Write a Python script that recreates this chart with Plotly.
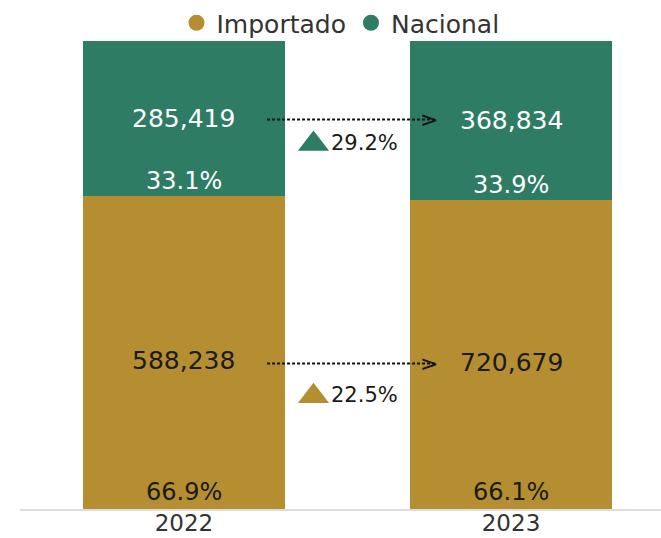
import plotly.graph_objects as go

years = ["2022", "2023"]
series = ["Importado", "Nacional"]
importado_vals = [588238, 720679]
nacional_vals = [285419, 368834]
importado_pct = [66.9, 66.1]
nacional_pct = [33.1, 33.9]
growth_labels = ["22.5%", "29.2%"]  # Importado, Nacional

GOLD = "#B48E30"
GREEN = "#2F7C65"
FONT = "DejaVu Sans"

fig = go.Figure()
fig.add_trace(go.Bar(x=[0, 1], y=importado_pct, marker=dict(color=GOLD, line=dict(width=0)),
                     width=0.618, showlegend=False, hoverinfo="skip"))
fig.add_trace(go.Bar(x=[0, 1], y=nacional_pct, marker=dict(color=GREEN, line=dict(width=0)),
                     width=0.618, showlegend=False, hoverinfo="skip"))

# legend entries
for name, col in zip(series, [GOLD, GREEN]):
    fig.add_trace(go.Scatter(x=[None], y=[None], mode="markers", name=name,
                             marker=dict(color=col, size=20, symbol="circle")))

ann = []
for i in range(2):
    imp, nac = importado_pct[i], nacional_pct[i]
    ann.append(dict(x=i, y=imp + nac / 2, text=f"{nacional_vals[i]:,}", showarrow=False,
                    font=dict(family=FONT, size=25, color="white")))
    ann.append(dict(x=i, y=imp + 3.1, text=f"{nac:.1f}%", showarrow=False,
                    font=dict(family=FONT, size=24, color="white")))
    ann.append(dict(x=i, y=imp * 0.475, text=f"{importado_vals[i]:,}", showarrow=False,
                    font=dict(family=FONT, size=25, color="#1a1a1a")))
    ann.append(dict(x=i, y=3.6, text=f"{imp:.1f}%", showarrow=False,
                    font=dict(family=FONT, size=24, color="#1a1a1a")))

# growth arrows and triangles
arrow_y = [importado_pct[0] * 0.465, importado_pct[0] + nacional_pct[0] / 2 - 0.2]
tri_y = [importado_pct[0] * 0.36, importado_pct[0] + nacional_pct[0] * 0.335]
tri_col = [GOLD, GREEN]
for k in range(2):
    fig.add_trace(go.Scatter(x=[0.254, 0.77], y=[arrow_y[k], arrow_y[k]], mode="lines",
                             line=dict(color="#111111", width=2, dash="3px,2px"),
                             showlegend=False, hoverinfo="skip"))
    ann.append(dict(x=0.783, y=arrow_y[k], text=">", showarrow=False, xanchor="right",
                    font=dict(family=FONT, size=22, color="#111111")))
    fig.add_trace(go.Scatter(x=[0.396], y=[tri_y[k]], mode="markers",
                             marker=dict(symbol="triangle-up", size=27, color=tri_col[k]),
                             showlegend=False, hoverinfo="skip"))
    ann.append(dict(x=0.443, y=tri_y[k] + 0.3, text=growth_labels[k], showarrow=False, xanchor="left",
                    font=dict(family=FONT, size=21, color="#1a1a1a")))

fig.update_layout(
    width=661, height=538,
    margin=dict(l=20, r=0, t=41, b=29, autoexpand=False),
    barmode="stack",
    plot_bgcolor="white", paper_bgcolor="white",
    annotations=ann,
    legend=dict(orientation="h", x=0.5, xanchor="center", xref="paper",
                y=1.0, yanchor="top", yref="container", traceorder="normal",
                font=dict(family=FONT, size=25, color="#333333"),
                itemsizing="trace", bgcolor="rgba(0,0,0,0)"),
    xaxis=dict(range=[-0.5015, 1.4587], tickmode="array", tickvals=[0, 1], ticktext=years,
               showgrid=False, zeroline=False, showline=True, linecolor="#dddddd", linewidth=2,
               tickfont=dict(family=FONT, size=23, color="#333333"), fixedrange=True,
               automargin=False, ticklabelstandoff=-8),
    yaxis=dict(range=[0, 100], visible=False, fixedrange=True),
)

fig.write_html("out.html", config={"displayModeBar": False},
               post_script="document.body.style.margin='0';")
